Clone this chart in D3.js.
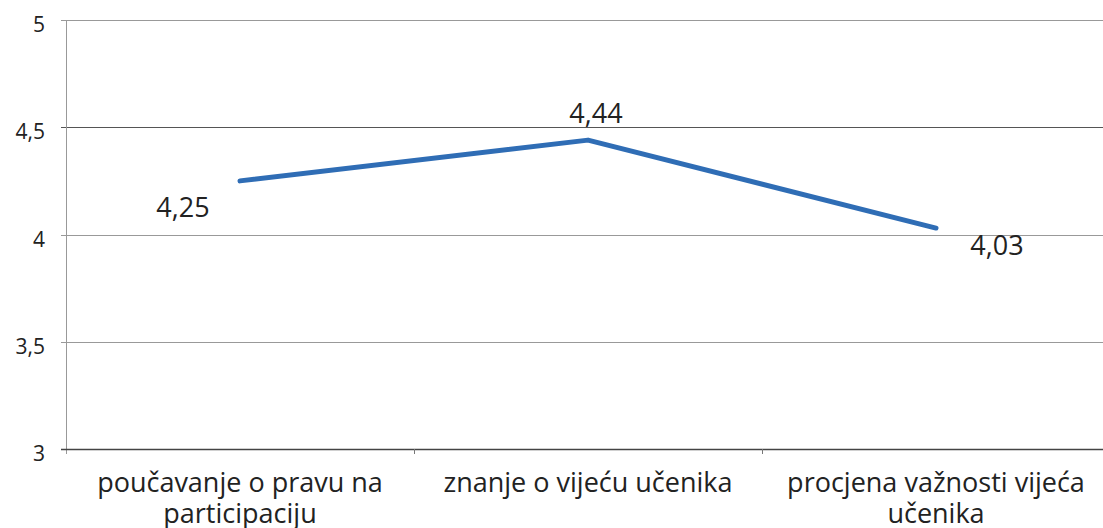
<!DOCTYPE html>
<html>
<head>
<meta charset="utf-8">
<script src="https://cdn.jsdelivr.net/npm/d3@7"></script>
<style>
  body { margin: 0; background: #fff; }
  svg { display: block; font-family: "Open Sans", sans-serif; }
</style>
</head>
<body>
<div id="chart"></div>
<script>
const categories = [
  ['poučavanje o pravu na', 'participaciju'],
  ['znanje o vijeću učenika'],
  ['procjena važnosti vijeća', 'učenika']
];
const values = [4.25, 4.44, 4.03];
const valueLabels = ['4,25', '4,44', '4,03'];
const yTicks = [3, 3.5, 4, 4.5, 5];
const yTickLabels = ['3', '3,5', '4', '4,5', '5'];

const width = 1103, height = 528;
const marginLeft = 66, marginTop = 20, plotW = 1044, plotH = 429;

const svg = d3.select('#chart').append('svg')
    .attr('width', width)
    .attr('height', height);

const x = d3.scaleBand()
    .domain(d3.range(categories.length))
    .range([marginLeft, marginLeft + plotW]);

const y = d3.scaleLinear()
    .domain([3, 5])
    .range([marginTop + plotH, marginTop]);

// mreža
svg.append('g')
    .selectAll('line')
    .data(yTicks.filter(t => t !== 3))
    .join('line')
    .attr('x1', marginLeft - 5)
    .attr('x2', marginLeft + plotW)
    .attr('y1', d => Math.round(y(d)) + 0.5)
    .attr('y2', d => Math.round(y(d)) + 0.5)
    .attr('stroke', d => d === 4.5 ? '#555' : '#999')
    .attr('stroke-width', 1);

// y os
svg.append('line')
    .attr('x1', marginLeft + 0.5).attr('x2', marginLeft + 0.5)
    .attr('y1', marginTop).attr('y2', marginTop + plotH + 5)
    .attr('stroke', '#999');

svg.append('line')
    .attr('x1', marginLeft - 5).attr('x2', marginLeft + plotW)
    .attr('y1', Math.round(y(3)) + 0.5).attr('y2', Math.round(y(3)) + 0.5)
    .attr('stroke', '#444').attr('stroke-width', 1.5);

// oznake na x osi
svg.append('g')
    .selectAll('line')
    .data(d3.range(1, categories.length))
    .join('line')
    .attr('x1', d => x(d) + 0.5)
    .attr('x2', d => x(d) + 0.5)
    .attr('y1', y(3))
    .attr('y2', y(3) + 5)
    .attr('stroke', '#777');

svg.append('g')
    .selectAll('text')
    .data(yTicks)
    .join('text')
    .attr('x', 45)
    .attr('y', d => y(d) + 12)
    .attr('text-anchor', 'end')
    .attr('fill', '#222')
    .style('font-size', '21px')
    .text((d, i) => yTickLabels[i]);

// nazivi kategorija
const cat = svg.append('g')
    .selectAll('text')
    .data(categories)
    .join('text')
    .attr('x', (d, i) => x(i) + x.bandwidth() / 2)
    .attr('y', 492)
    .attr('text-anchor', 'middle')
    .attr('fill', '#222')
    .style('font-size', '27px');

cat.selectAll('tspan')
    .data(d => d)
    .join('tspan')
    .attr('x', function () { return this.parentNode.getAttribute('x'); })
    .attr('dy', (d, i) => i === 0 ? 0 : 31)
    .text(d => d);

// linija
const line = d3.line()
    .x((d, i) => x(i) + x.bandwidth() / 2)
    .y(d => y(d));

svg.append('path')
    .datum(values)
    .attr('d', line)
    .attr('fill', 'none')
    .attr('stroke', '#2f6db5')
    .attr('stroke-width', 5)
    .attr('stroke-linecap', 'round')
    .attr('stroke-linejoin', 'round');

// vrijednosti
const labelOffsets = [[-57, 36], [8, -17], [61, 27]];
svg.append('g')
    .selectAll('text')
    .data(values)
    .join('text')
    .attr('x', (d, i) => x(i) + x.bandwidth() / 2 + labelOffsets[i][0])
    .attr('y', (d, i) => y(d) + labelOffsets[i][1])
    .attr('text-anchor', 'middle')
    .attr('fill', '#222')
    .style('font-size', '27px')
    .text((d, i) => valueLabels[i]);
</script>
</body>
</html>
